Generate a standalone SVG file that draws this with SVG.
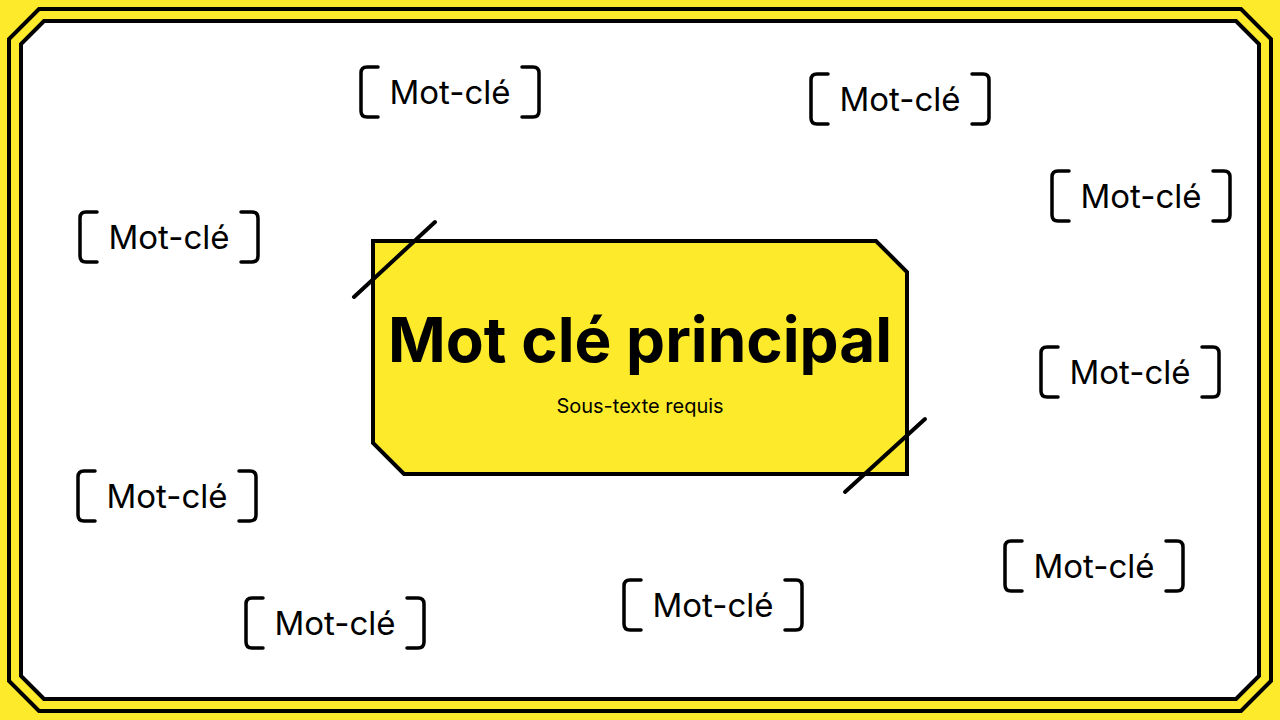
<svg xmlns="http://www.w3.org/2000/svg" width="1280" height="720" viewBox="0 0 1280 720">
<style>
.frame{fill:none;stroke:#000;stroke-width:4}
.br{fill:none;stroke:#000;stroke-width:3.5;stroke-linecap:round;stroke-linejoin:round}
.kw{font-family:Inter,"Liberation Sans",sans-serif;font-size:33px;fill:#000;text-anchor:middle}
.deco{stroke:#000;stroke-width:4;stroke-linecap:round}
</style>
<defs>
<g id="brackets">
<path class="br" d="M-72,-25 H-83 Q-89,-25 -89,-19 V19 Q-89,25 -83,25 H-72"/>
<path class="br" d="M72,-25 H83 Q89,-25 89,-19 V19 Q89,25 83,25 H72"/>
</g>
</defs>
<rect width="1280" height="720" fill="#FCEA2B"/>
<g id="frame">
<polygon class="frame" points="39,9 1241,9 1271,39 1271,681 1241,711 39,711 9,681 9,39"/>
<polygon points="44,21 1236,21 1259,44 1259,676 1236,699 44,699 21,676 21,44" fill="#fff" stroke="#000" stroke-width="4"/>
</g>
<g id="main">
<polygon points="373,241 876,241 907,272 907,474 404,474 373,443" fill="#FCEA2B" stroke="#000" stroke-width="4"/>
<line class="deco" x1="354" y1="297" x2="435" y2="222"/>
<line class="deco" x1="845" y1="492" x2="925" y2="419"/>
<text x="640" y="362" font-family="Inter,'Liberation Sans',sans-serif" font-size="62" font-weight="700" text-anchor="middle" fill="#000">Mot clé principal</text>
<text x="640" y="413" font-family="Inter,'Liberation Sans',sans-serif" font-size="20" text-anchor="middle" fill="#000">Sous-texte requis</text>
</g>
<g id="kw1" transform="translate(450,92)"><use href="#brackets"/><text class="kw" y="12">Mot-clé</text></g>
<g id="kw2" transform="translate(900,99)"><use href="#brackets"/><text class="kw" y="12">Mot-clé</text></g>
<g id="kw3" transform="translate(1141,196)"><use href="#brackets"/><text class="kw" y="12">Mot-clé</text></g>
<g id="kw4" transform="translate(169,237)"><use href="#brackets"/><text class="kw" y="12">Mot-clé</text></g>
<g id="kw5" transform="translate(1130,372)"><use href="#brackets"/><text class="kw" y="12">Mot-clé</text></g>
<g id="kw6" transform="translate(167,496)"><use href="#brackets"/><text class="kw" y="12">Mot-clé</text></g>
<g id="kw7" transform="translate(1094,566)"><use href="#brackets"/><text class="kw" y="12">Mot-clé</text></g>
<g id="kw8" transform="translate(713,605)"><use href="#brackets"/><text class="kw" y="12">Mot-clé</text></g>
<g id="kw9" transform="translate(335,623)"><use href="#brackets"/><text class="kw" y="12">Mot-clé</text></g>
</svg>
